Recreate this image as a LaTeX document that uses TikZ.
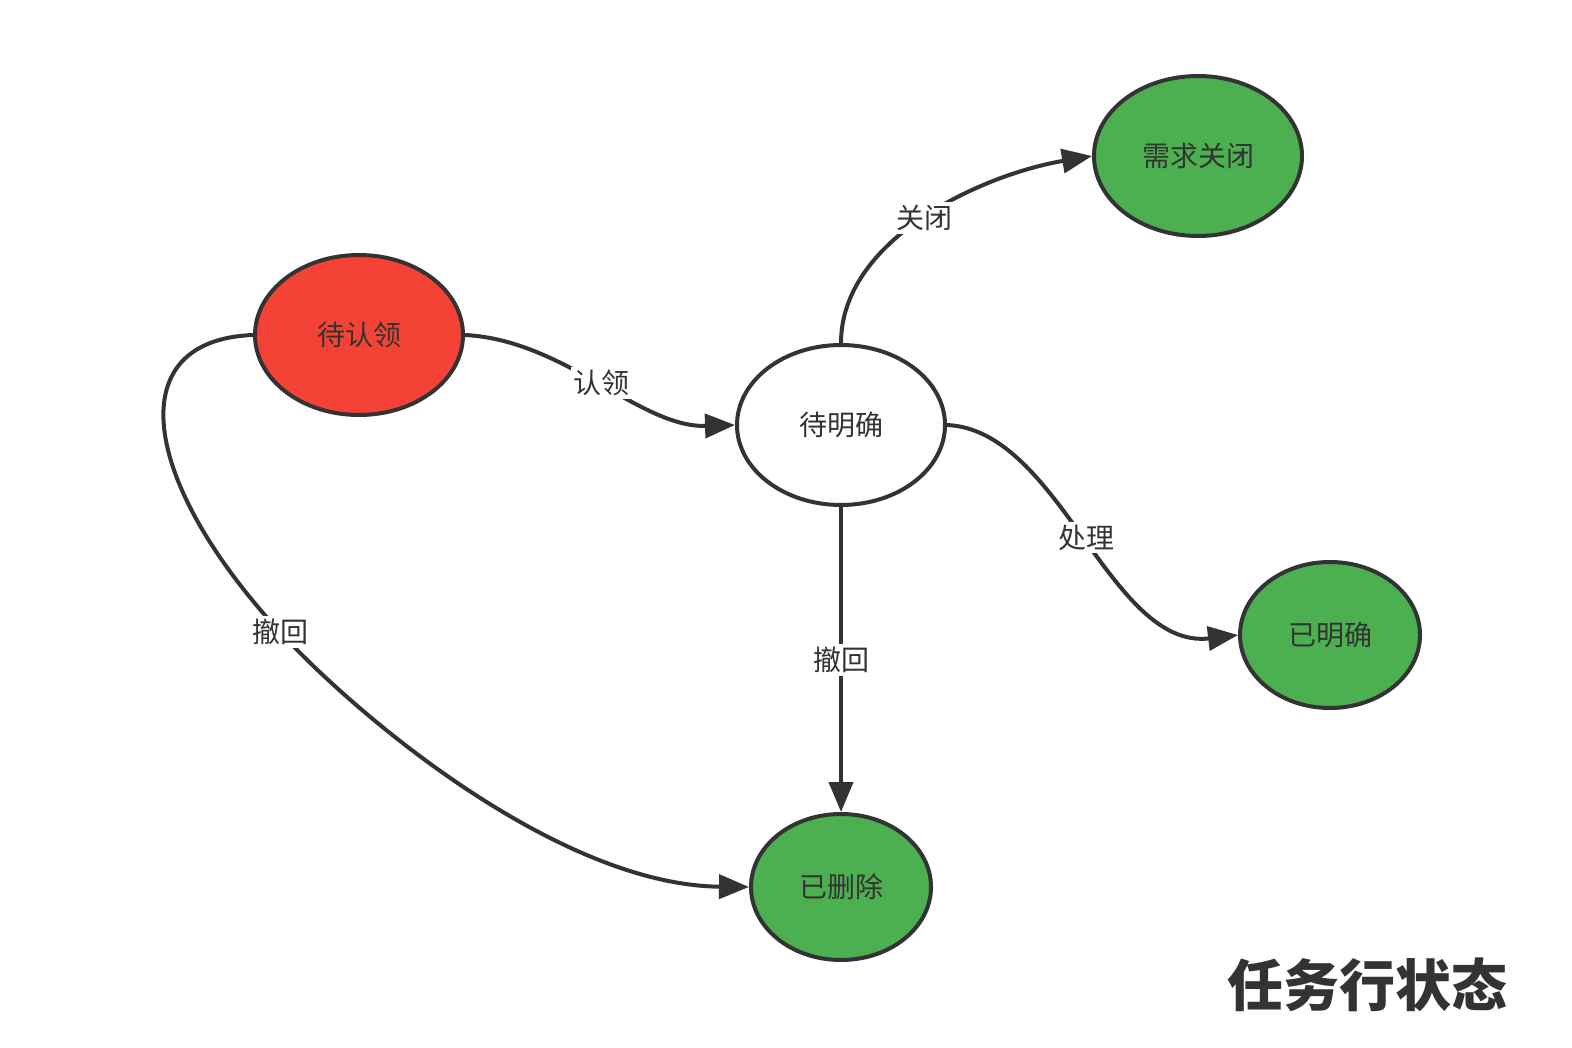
\documentclass[tikz,border=0pt]{standalone}
\usepackage{fontspec}
\setmainfont{Noto Sans CJK SC}
\usetikzlibrary{shapes.geometric,arrows.meta}
\definecolor{ink}{HTML}{333333}
\definecolor{stred}{HTML}{F44336}
\definecolor{stgreen}{HTML}{4CAF50}
\tikzset{
  state/.style={ellipse,draw=ink,line width=2pt,inner sep=0pt,text=ink,font=\fontsize{14pt}{16pt}\selectfont},
  bigstate/.style={state,minimum width=104pt,minimum height=80pt},
  smallstate/.style={state,minimum width=90pt,minimum height=73pt},
  conn/.style={draw=ink,line width=2pt,-{Triangle[length=15pt,width=12pt]}},
  lbl/.style={fill=white,inner sep=1.5pt,text=ink,font=\fontsize{14pt}{16pt}\selectfont},
}
\begin{document}
\begin{tikzpicture}[x=0.5pt,y=-0.5pt]
\useasboundingbox[fill=white] (0,0) rectangle (1572,1048);
\node[bigstate,fill=stred] (claim) at (359,335) {待认领};
\node[bigstate,fill=white] (unclear) at (841,425) {待明确};
\node[bigstate,fill=stgreen] (closed) at (1198,156) {需求关闭};
\node[smallstate,fill=stgreen] (clear) at (1330,635) {已明确};
\node[smallstate,fill=stgreen] (deleted) at (841,887) {已删除};
\node[text=ink,font=\fontsize{28pt}{32pt}\selectfont\bfseries] (title) at (1367,985) {任务行状态};

\draw[conn] (claim.east) .. controls (565,340) and (640,428) .. node[lbl] (l1) {认领} (unclear.west);
\draw[conn] (claim.west) .. controls (120,340) and (140,480) .. (280,632) node[lbl] (l2) {撤回}
  .. controls (360,719) and (560,885) .. (deleted.west);
\draw[conn] (unclear.north) .. controls (841,240) and (980,175) .. node[lbl] (l3) {关闭} (closed.west);
\draw[conn] (unclear.east) .. controls (1060,430) and (1110,650) .. node[lbl] (l4) {处理} (clear.west);
\draw[conn] (unclear.south) -- node[lbl] (l5) {撤回} (deleted.north);
\end{tikzpicture}
\end{document}
